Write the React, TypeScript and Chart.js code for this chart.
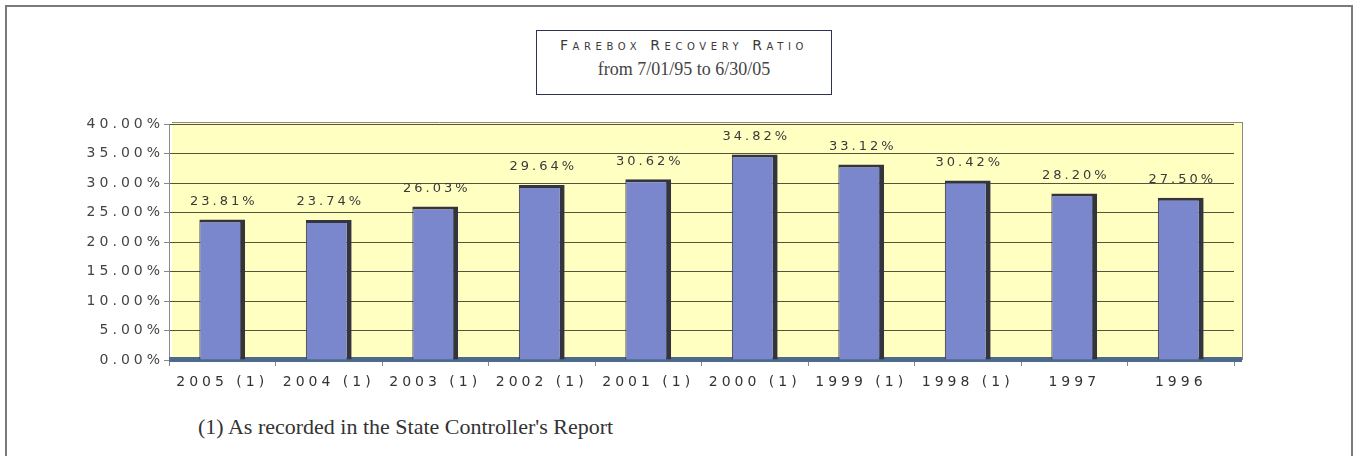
import React, { useEffect, useRef } from "react";
import { Chart, registerables } from "chart.js";

Chart.register(...registerables);

const categories = ["2005 (1)", "2004 (1)", "2003 (1)", "2002 (1)", "2001 (1)", "2000 (1)", "1999 (1)", "1998 (1)", "1997", "1996"];
const ratios = [23.81, 23.74, 26.03, 29.64, 30.62, 34.82, 33.12, 30.42, 28.2, 27.5];
const valueLabels = ["23.81%", "23.74%", "26.03%", "29.64%", "30.62%", "34.82%", "33.12%", "30.42%", "28.20%", "27.50%"];
const titleLine1 = "Farebox Recovery Ratio";
const titleLine2 = "from 7/01/95 to 6/30/05";
const footnote = "(1) As recorded in the State Controller's Report";

const SPACING = 4;

const spacingPlugin = {
  id: "spacing",
  beforeUpdate(chart: any) { chart.ctx.letterSpacing = SPACING + "px"; },
  beforeLayout(chart: any) { chart.ctx.letterSpacing = SPACING + "px"; },
  beforeDraw(chart: any) {
    const ctx = chart.ctx;
    ctx.letterSpacing = SPACING + "px";
    const a = chart.chartArea;
    ctx.save();
    ctx.fillStyle = "#ffffc2";
    ctx.fillRect(a.left + 3, a.top - 2, a.right - a.left + 5, a.bottom - a.top + 2);
    ctx.restore();
  },
  beforeDatasetsDraw(chart: any) {
    const ctx = chart.ctx;
    const a = chart.chartArea;
    ctx.save();
    ctx.fillStyle = "#4d6a8c";
    ctx.fillRect(a.left, a.bottom - 3, a.right - a.left + 8, 5);
    ctx.strokeStyle = "#8a8a80";
    ctx.lineWidth = 1;
    ctx.beginPath();
    ctx.moveTo(a.right + 8.5, a.top - 2);
    ctx.lineTo(a.right + 8.5, a.bottom);
    ctx.moveTo(a.left + 3, a.top - 1.5);
    ctx.lineTo(a.right + 8, a.top - 1.5);
    ctx.stroke();
    ctx.restore();
  },
  afterDatasetsDraw(chart: any) {
    const ctx = chart.ctx;
    const meta = chart.getDatasetMeta(0);
    ctx.save();
    ctx.letterSpacing = "3px";
    ctx.font = "13px 'DejaVu Sans'";
    ctx.fillStyle = "#3a3a3a";
    ctx.textAlign = "center";
    ctx.textBaseline = "middle";
    meta.data.forEach((bar: any, i: number) => {
      ctx.fillText(valueLabels[i], bar.x + 1.5, bar.y - 18);
    });
    ctx.restore();
  },
};

function BarChart() {
  const ref = useRef<HTMLCanvasElement>(null);
  useEffect(() => {
    if (!ref.current) return;
    const chart = new Chart(ref.current, {
      type: "bar",
      data: {
        labels: categories,
        datasets: [
          {
            data: ratios,
            backgroundColor: "#7b87cd",
            borderColor: "#34343f",
            borderWidth: { top: 3, right: 5, left: 1, bottom: 0 } as any,
            borderSkipped: false as any,
            barPercentage: 0.43,
            categoryPercentage: 1,
          },
        ],
      },
      options: {
        animation: false,
        responsive: false,
        maintainAspectRatio: false,
        layout: { padding: { top: 24, right: 117, left: 0, bottom: 0 } },
        plugins: { legend: { display: false }, tooltip: { enabled: false }, title: { display: false } },
        scales: {
          x: {
            offset: true,
            afterFit(scale: any) { scale.height = 40; },
            grid: { display: true, drawOnChartArea: false, drawTicks: true, tickLength: 6, color: "#888888", offset: true },
            border: { display: true, color: "#8a8a8a" },
            ticks: { color: "#333333", font: { family: "'DejaVu Sans'", size: 14 }, padding: 8, maxRotation: 0, autoSkip: false },
          },
          y: {
            min: 0,
            max: 40,
            afterFit(scale: any) { scale.width = 162; },
            grid: { color: "#55553f", lineWidth: 1, drawTicks: true, tickLength: 5, tickColor: "#888888" },
            border: { display: true, color: "#8a8a8a" },
            ticks: {
              stepSize: 5,
              color: "#444444",
              padding: 0,
              font: { family: "'DejaVu Sans'", size: 14 },
              callback: (v: any) => Number(v).toFixed(2) + "%",
            },
          },
        },
      },
      plugins: [spacingPlugin],
    });
    return () => chart.destroy();
  }, []);
  return <canvas ref={ref} width={1344} height={300} style={{ position: "absolute", left: 0, top: 93, width: 1344, height: 300 }} />;
}

export default function App() {
  return (
    <div
      style={{
        position: "absolute",
        left: 5,
        top: 5,
        width: 1348,
        height: 470,
        borderLeft: "2px solid #7a7a7a",
        borderTop: "2px solid #7a7a7a",
        borderRight: "2px solid #7a7a7a",
        borderBottom: "2px solid #7a7a7a",
        boxSizing: "border-box",
        background: "#ffffff",
      }}
    >
      <div
        style={{
          position: "absolute",
          left: 529,
          top: 23,
          width: 296,
          height: 65,
          border: "1.5px solid #2c3252",
          boxSizing: "border-box",
          textAlign: "center",
        }}
      >
        <div
          style={{
            fontFamily: "'DejaVu Sans'",
            fontVariant: "small-caps",
            fontSize: 14,
            letterSpacing: 4.6,
            color: "#3a3a3a",
            marginTop: 5,
            lineHeight: "18px",
            whiteSpace: "nowrap",
          }}
        >
          {titleLine1}
        </div>
        <div style={{ fontFamily: "'Liberation Serif'", fontSize: 18, color: "#444", marginTop: 5, lineHeight: "20px", whiteSpace: "nowrap" }}>{titleLine2}</div>
      </div>
      <BarChart />
      <div
        style={{
          position: "absolute",
          left: 191,
          top: 407,
          fontFamily: "'Liberation Serif'",
          fontSize: 22,
          color: "#333",
          whiteSpace: "nowrap",
        }}
      >
        {footnote}
      </div>
    </div>
  );
}
